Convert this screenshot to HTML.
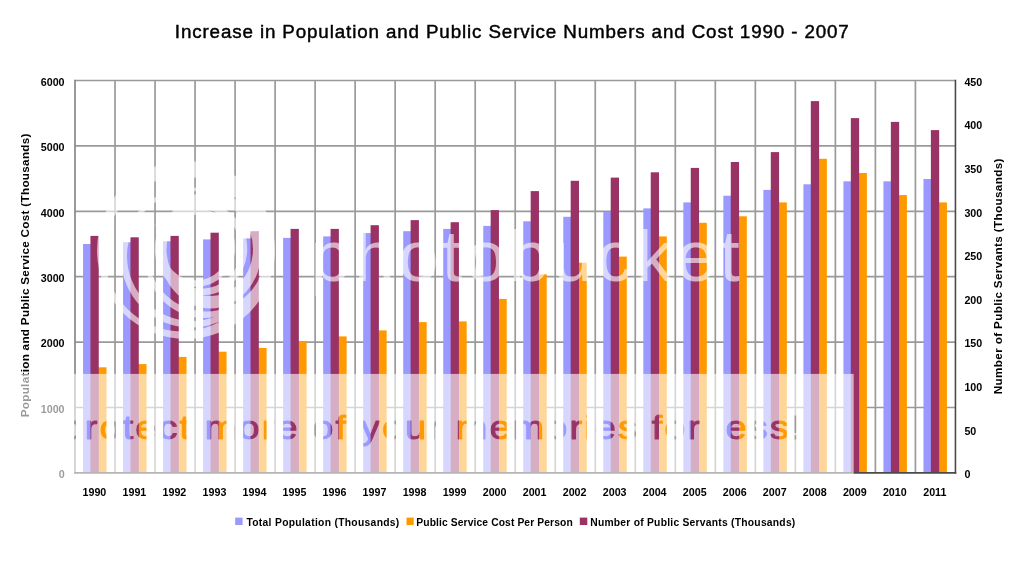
<!DOCTYPE html>
<html><head><meta charset="utf-8"><title>Chart</title>
<style>
html,body{margin:0;padding:0;background:#fff;}
body{width:1024px;height:569px;overflow:hidden;font-family:"Liberation Sans",sans-serif;}
svg{display:block;will-change:transform;}
text{font-family:"Liberation Sans",sans-serif;}
.b{font-weight:bold;}
</style></head><body>
<svg width="1024" height="569" viewBox="0 0 1024 569">
<rect width="1024" height="569" fill="#fff"/>

<text id="title" x="174.8" y="38.1" textLength="674" lengthAdjust="spacing" font-size="18.8" fill="#000" stroke="#000" stroke-width="0.45">Increase in Population and Public Service Numbers and Cost 1990 - 2007</text>
<g stroke="#9a9a9a" stroke-width="1.7" fill="none">
<line x1="75.00" y1="80.50" x2="955.44" y2="80.50"/>
<line x1="75.00" y1="145.90" x2="955.44" y2="145.90"/>
<line x1="75.00" y1="211.30" x2="955.44" y2="211.30"/>
<line x1="75.00" y1="276.70" x2="955.44" y2="276.70"/>
<line x1="75.00" y1="342.10" x2="955.44" y2="342.10"/>
<line x1="75.00" y1="407.50" x2="955.44" y2="407.50"/>
<line x1="115.02" y1="80.50" x2="115.02" y2="472.90"/>
<line x1="155.04" y1="80.50" x2="155.04" y2="472.90"/>
<line x1="195.06" y1="80.50" x2="195.06" y2="472.90"/>
<line x1="235.08" y1="80.50" x2="235.08" y2="472.90"/>
<line x1="275.10" y1="80.50" x2="275.10" y2="472.90"/>
<line x1="315.12" y1="80.50" x2="315.12" y2="472.90"/>
<line x1="355.14" y1="80.50" x2="355.14" y2="472.90"/>
<line x1="395.16" y1="80.50" x2="395.16" y2="472.90"/>
<line x1="435.18" y1="80.50" x2="435.18" y2="472.90"/>
<line x1="475.20" y1="80.50" x2="475.20" y2="472.90"/>
<line x1="515.22" y1="80.50" x2="515.22" y2="472.90"/>
<line x1="555.24" y1="80.50" x2="555.24" y2="472.90"/>
<line x1="595.26" y1="80.50" x2="595.26" y2="472.90"/>
<line x1="635.28" y1="80.50" x2="635.28" y2="472.90"/>
<line x1="675.30" y1="80.50" x2="675.30" y2="472.90"/>
<line x1="715.32" y1="80.50" x2="715.32" y2="472.90"/>
<line x1="755.34" y1="80.50" x2="755.34" y2="472.90"/>
<line x1="795.36" y1="80.50" x2="795.36" y2="472.90"/>
<line x1="835.38" y1="80.50" x2="835.38" y2="472.90"/>
<line x1="875.40" y1="80.50" x2="875.40" y2="472.90"/>
<line x1="915.42" y1="80.50" x2="915.42" y2="472.90"/>
</g>
<g>
<rect x="83.05" y="244.00" width="12" height="228.90" fill="#9999ff"/>
<rect x="95.00" y="367.30" width="11.5" height="105.60" fill="#ff9900"/>
<rect x="90.45" y="235.90" width="8.3" height="237.00" fill="#993366"/>
<rect x="123.07" y="242.20" width="12" height="230.70" fill="#9999ff"/>
<rect x="135.02" y="364.10" width="11.5" height="108.80" fill="#ff9900"/>
<rect x="130.47" y="237.30" width="8.3" height="235.60" fill="#993366"/>
<rect x="163.09" y="241.20" width="12" height="231.70" fill="#9999ff"/>
<rect x="175.04" y="356.90" width="11.5" height="116.00" fill="#ff9900"/>
<rect x="170.49" y="235.90" width="8.3" height="237.00" fill="#993366"/>
<rect x="203.11" y="239.40" width="12" height="233.50" fill="#9999ff"/>
<rect x="215.06" y="351.70" width="11.5" height="121.20" fill="#ff9900"/>
<rect x="210.51" y="232.70" width="8.3" height="240.20" fill="#993366"/>
<rect x="243.13" y="238.40" width="12" height="234.50" fill="#9999ff"/>
<rect x="255.08" y="347.90" width="11.5" height="125.00" fill="#ff9900"/>
<rect x="250.53" y="231.20" width="8.3" height="241.70" fill="#993366"/>
<rect x="283.15" y="237.90" width="12" height="235.00" fill="#9999ff"/>
<rect x="295.10" y="341.00" width="11.5" height="131.90" fill="#ff9900"/>
<rect x="290.55" y="228.90" width="8.3" height="244.00" fill="#993366"/>
<rect x="323.17" y="236.40" width="12" height="236.50" fill="#9999ff"/>
<rect x="335.12" y="336.40" width="11.5" height="136.50" fill="#ff9900"/>
<rect x="330.57" y="228.90" width="8.3" height="244.00" fill="#993366"/>
<rect x="363.19" y="233.10" width="12" height="239.80" fill="#9999ff"/>
<rect x="375.14" y="330.40" width="11.5" height="142.50" fill="#ff9900"/>
<rect x="370.59" y="225.20" width="8.3" height="247.70" fill="#993366"/>
<rect x="403.21" y="231.20" width="12" height="241.70" fill="#9999ff"/>
<rect x="415.16" y="322.10" width="11.5" height="150.80" fill="#ff9900"/>
<rect x="410.61" y="220.10" width="8.3" height="252.80" fill="#993366"/>
<rect x="443.23" y="228.90" width="12" height="244.00" fill="#9999ff"/>
<rect x="455.18" y="321.40" width="11.5" height="151.50" fill="#ff9900"/>
<rect x="450.63" y="222.20" width="8.3" height="250.70" fill="#993366"/>
<rect x="483.25" y="225.90" width="12" height="247.00" fill="#9999ff"/>
<rect x="495.20" y="298.90" width="11.5" height="174.00" fill="#ff9900"/>
<rect x="490.65" y="210.10" width="8.3" height="262.80" fill="#993366"/>
<rect x="523.27" y="221.30" width="12" height="251.60" fill="#9999ff"/>
<rect x="535.22" y="274.30" width="11.5" height="198.60" fill="#ff9900"/>
<rect x="530.67" y="191.10" width="8.3" height="281.80" fill="#993366"/>
<rect x="563.29" y="216.80" width="12" height="256.10" fill="#9999ff"/>
<rect x="575.24" y="262.70" width="11.5" height="210.20" fill="#ff9900"/>
<rect x="570.69" y="180.80" width="8.3" height="292.10" fill="#993366"/>
<rect x="603.31" y="211.90" width="12" height="261.00" fill="#9999ff"/>
<rect x="615.26" y="256.60" width="11.5" height="216.30" fill="#ff9900"/>
<rect x="610.71" y="177.60" width="8.3" height="295.30" fill="#993366"/>
<rect x="643.33" y="208.40" width="12" height="264.50" fill="#9999ff"/>
<rect x="655.28" y="236.40" width="11.5" height="236.50" fill="#ff9900"/>
<rect x="650.73" y="172.30" width="8.3" height="300.60" fill="#993366"/>
<rect x="683.35" y="202.40" width="12" height="270.50" fill="#9999ff"/>
<rect x="695.30" y="222.80" width="11.5" height="250.10" fill="#ff9900"/>
<rect x="690.75" y="167.90" width="8.3" height="305.00" fill="#993366"/>
<rect x="723.37" y="195.70" width="12" height="277.20" fill="#9999ff"/>
<rect x="735.32" y="216.30" width="11.5" height="256.60" fill="#ff9900"/>
<rect x="730.77" y="162.00" width="8.3" height="310.90" fill="#993366"/>
<rect x="763.39" y="189.90" width="12" height="283.00" fill="#9999ff"/>
<rect x="775.34" y="202.40" width="11.5" height="270.50" fill="#ff9900"/>
<rect x="770.79" y="152.10" width="8.3" height="320.80" fill="#993366"/>
<rect x="803.41" y="184.30" width="12" height="288.60" fill="#9999ff"/>
<rect x="815.36" y="158.80" width="11.5" height="314.10" fill="#ff9900"/>
<rect x="810.81" y="101.10" width="8.3" height="371.80" fill="#993366"/>
<rect x="843.43" y="181.30" width="12" height="291.60" fill="#9999ff"/>
<rect x="855.38" y="173.00" width="11.5" height="299.90" fill="#ff9900"/>
<rect x="850.83" y="118.10" width="8.3" height="354.80" fill="#993366"/>
<rect x="883.45" y="181.30" width="12" height="291.60" fill="#9999ff"/>
<rect x="895.40" y="195.10" width="11.5" height="277.80" fill="#ff9900"/>
<rect x="890.85" y="121.90" width="8.3" height="351.00" fill="#993366"/>
<rect x="923.47" y="179.00" width="12" height="293.90" fill="#9999ff"/>
<rect x="935.42" y="202.40" width="11.5" height="270.50" fill="#ff9900"/>
<rect x="930.87" y="130.10" width="8.3" height="342.80" fill="#993366"/>
</g>
<line x1="75.00" y1="79.70" x2="75.00" y2="473.70" stroke="#808080" stroke-width="1.6"/>
<line x1="74.20" y1="472.90" x2="956.24" y2="472.90" stroke="#4a4a4a" stroke-width="1.6"/>
<line x1="955.44" y1="79.70" x2="955.44" y2="473.70" stroke="#4a4a4a" stroke-width="1.6"/>
<g class="b" font-size="10.2" fill="#000" text-anchor="end" transform="scale(1.05,1)">
<text x="61.52" y="85.90">6000</text>
<text x="61.52" y="151.30">5000</text>
<text x="61.52" y="216.70">4000</text>
<text x="61.52" y="282.10">3000</text>
<text x="61.52" y="347.50">2000</text>
<text x="61.52" y="412.90">1000</text>
<text x="61.52" y="478.30">0</text>
</g>
<g class="b" font-size="10.2" fill="#000" text-anchor="start" transform="scale(1.05,1)">
<text x="918.48" y="85.90">450</text>
<text x="918.48" y="129.50">400</text>
<text x="918.48" y="173.10">350</text>
<text x="918.48" y="216.70">300</text>
<text x="918.48" y="260.30">250</text>
<text x="918.48" y="303.90">200</text>
<text x="918.48" y="347.50">150</text>
<text x="918.48" y="391.10">100</text>
<text x="918.48" y="434.70">50</text>
<text x="918.48" y="478.30">0</text>
</g>
<g class="b" font-size="10.2" fill="#000" text-anchor="middle" transform="scale(1.05,1)">
<text x="89.90" y="495.6">1990</text>
<text x="128.02" y="495.6">1991</text>
<text x="166.13" y="495.6">1992</text>
<text x="204.25" y="495.6">1993</text>
<text x="242.36" y="495.6">1994</text>
<text x="280.48" y="495.6">1995</text>
<text x="318.59" y="495.6">1996</text>
<text x="356.70" y="495.6">1997</text>
<text x="394.82" y="495.6">1998</text>
<text x="432.93" y="495.6">1999</text>
<text x="471.05" y="495.6">2000</text>
<text x="509.16" y="495.6">2001</text>
<text x="547.28" y="495.6">2002</text>
<text x="585.39" y="495.6">2003</text>
<text x="623.50" y="495.6">2004</text>
<text x="661.62" y="495.6">2005</text>
<text x="699.73" y="495.6">2006</text>
<text x="737.85" y="495.6">2007</text>
<text x="775.96" y="495.6">2008</text>
<text x="814.08" y="495.6">2009</text>
<text x="852.19" y="495.6">2010</text>
<text x="890.30" y="495.6">2011</text>
</g>
<text id="lt" class="b" font-size="11.7" fill="#000" textLength="283.8" lengthAdjust="spacing" transform="translate(29.4,417.3) rotate(-90)">Population and Public Service Cost (Thousands)</text>
<text id="rt" class="b" font-size="11.7" fill="#000" textLength="235.6" lengthAdjust="spacing" transform="translate(1002.3,394.2) rotate(-90)">Number of Public Servants (Thousands)</text>
<rect x="235.2" y="517.6" width="7.4" height="7.4" fill="#9999ff"/>
<text id="l1" class="b" font-size="10.3" x="246.4" y="526.1" textLength="152.9" lengthAdjust="spacing" fill="#000">Total Population (Thousands)</text>
<rect x="406.5" y="517.6" width="7.2" height="7.4" fill="#ff9900"/>
<text id="l2" class="b" font-size="10.3" x="416.3" y="526.1" textLength="156.4" lengthAdjust="spacing" fill="#000">Public Service Cost Per Person</text>
<rect x="579.8" y="517.6" width="7.5" height="7.4" fill="#993366"/>
<text id="l3" class="b" font-size="10.3" x="590.2" y="526.1" textLength="205.1" lengthAdjust="spacing" fill="#000">Number of Public Servants (Thousands)</text>
<defs><mask id="bandmask" maskUnits="userSpaceOnUse" x="0" y="370" width="860" height="120">
<rect x="0" y="370" width="860" height="120" fill="#fff"/>
<text id="wm2" transform="translate(61.5,439.4) scale(1.15,1)" font-size="33" letter-spacing="1.83" fill="#000" stroke="#000" stroke-width="1.0" stroke-linejoin="round">protect more of your memories for less!</text>
</mask></defs>
<rect x="0" y="373.9" width="853.7" height="107" fill="#fff" fill-opacity="0.6" mask="url(#bandmask)"/>
<text id="wm1" x="310.5" y="281" font-size="73" letter-spacing="3.15" fill="#fff" fill-opacity="0.6">photobucket</text>
<defs><mask id="logomask" maskUnits="userSpaceOnUse" x="90" y="150" width="200" height="200">
<rect x="90" y="150" width="200" height="200" fill="#000"/>
<circle cx="186" cy="250" r="89" fill="#fff"/>
<circle cx="182" cy="254" r="77.5" fill="#000"/>
<circle cx="191" cy="257.5" r="70" fill="#fff"/>
<circle cx="192" cy="256" r="65" fill="#000"/>
<circle cx="205" cy="258" r="60" fill="#fff"/>
<circle cx="206.5" cy="253" r="58.5" fill="#000"/>
<ellipse cx="210.5" cy="250" rx="51" ry="58.5" fill="#fff"/>
<ellipse cx="209.75" cy="249" rx="43.25" ry="47" fill="#000"/>
<circle cx="201" cy="249" r="43" fill="none" stroke="#fff" stroke-width="6.5"/>
<circle cx="196" cy="247.5" r="36" fill="none" stroke="#fff" stroke-width="6.5"/>
</mask></defs>
<rect x="90" y="150" width="200" height="200" fill="#fff" fill-opacity="0.6" mask="url(#logomask)"/>
</svg></body></html>
